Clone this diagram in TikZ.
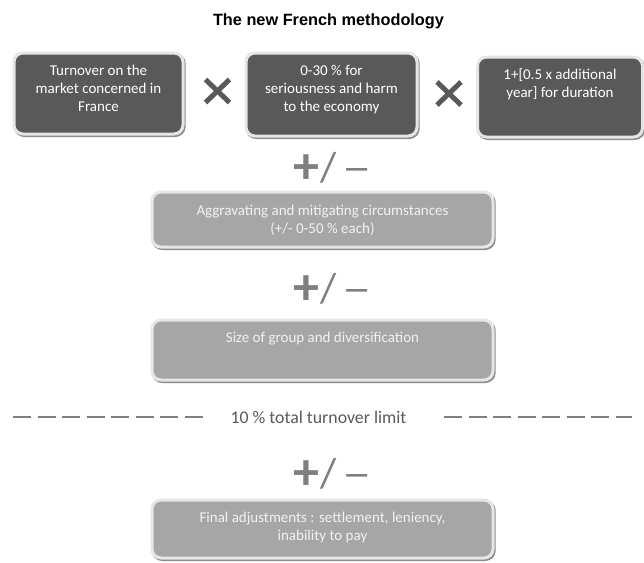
\documentclass[tikz,border=0pt]{standalone}
\usepackage{fontspec}
\setmainfont{Carlito}
\newfontfamily\titlefont{Liberation Sans}
\usetikzlibrary{shadows,calc}
\definecolor{darkfill}{HTML}{595959}
\definecolor{lightfill}{HTML}{A6A6A6}
\definecolor{boxrim}{HTML}{E6E6E6}
\definecolor{midgray}{HTML}{7F7F7F}
\definecolor{textgray}{HTML}{595959}
\newcommand{\pmsign}{\raisebox{-2.5pt}{\fontsize{52}{52}\selectfont\bfseries +}\kern1pt{\fontsize{42}{42}\selectfont /\kern6pt\scalebox{1.4}[1]{–}}}
\tikzset{
  boxbase/.style={rounded corners=9pt, draw=boxrim, line width=3pt, inner sep=0pt,
    drop shadow={shadow xshift=1.2pt, shadow yshift=-1.5pt, fill=black!45, draw=black!45, line width=3pt, opacity=1}},
  darkbox/.style={boxbase, fill=darkfill},
  lightbox/.style={boxbase, fill=lightfill},
  boxtext/.style={anchor=north, inner sep=0pt, align=center, text=white, font=\fontsize{15}{18}\selectfont},
  lighttext/.style={boxtext, text=white!95!black},
  opsign/.style={text=midgray, inner sep=0pt, anchor=west},
  timesline/.style={line width=5pt, draw=darkfill},
  limitdash/.style={line width=2.7pt, draw=midgray, dash pattern=on 18pt off 6.5pt},
}
\begin{document}
\begin{tikzpicture}[x=1pt,y=-1pt]
\useasboundingbox (0,0) rectangle (644,562);
% title
\node[font=\titlefont\bfseries\fontsize{16.3}{19}\selectfont, inner sep=0pt] (title) at (328.5,21) {The new French methodology};
% top row boxes
\node[darkbox, minimum width=169pt, minimum height=81pt] (b1) at (98.5,93.5) {};
\node[darkbox, minimum width=171pt, minimum height=83pt] (b2) at (331.5,94.5) {};
\node[darkbox, minimum width=165pt, minimum height=80pt] (b3) at (560,97) {};
\node[boxtext] (t1) at ($(b1.north)+(0,11.4)$) {\strut Turnover on the\\market concerned in\\France};
\node[boxtext] (t2) at ($(b2.north)+(0,11.4)$) {\strut 0-30 \% for\\seriousness and harm\\to the economy};
\node[boxtext] (t3) at ($(b3.north)+(0,11.4)$) {\strut 1+[0.5 x additional\\year] for duration};
% multiplication signs
\coordinate (m1) at (217.5,91);
\coordinate (m2) at (449,93.5);
\foreach \m in {m1,m2}{
  \draw[timesline] ($(\m)+(-12,-11.5)$) -- ($(\m)+(12,11.5)$);
  \draw[timesline] ($(\m)+(-12,11.5)$) -- ($(\m)+(12,-11.5)$);
}
% plus/minus signs
\node[opsign] (pm1) at (293,168) {\pmsign};
\node[opsign] (pm2) at (293,289) {\pmsign};
\node[opsign] (pm3) at (293,474) {\pmsign};
% middle boxes
\node[lightbox, minimum width=341pt, minimum height=55pt] (b4) at (322.5,219.5) {};
\node[lighttext] (t4) at ($(b4.north)+(0,12)$) {\strut Aggravating and mitigating circumstances\\(+/- 0-50 \% each)};
\node[lightbox, minimum width=341pt, minimum height=60pt] (b5) at (322.5,350) {};
\node[lighttext] (t5) at ($(b5.north)+(0,11.4)$) {\strut Size of group and diversification};
% limit line
\node[text=textgray, inner sep=0pt, font=\fontsize{17.8}{20}\selectfont] (lim) at (318.5,417) {10 \% total turnover limit};
\coordinate (dl1) at (13,417);
\coordinate (dl2) at (203,417);
\coordinate (dr1) at (444,417);
\coordinate (dr2) at (632,417);
\draw[limitdash] (dl1) -- (dl2);
\draw[limitdash] (dr1) -- (dr2);
% final box
\node[lightbox, minimum width=341pt, minimum height=58pt] (b6) at (322.5,529) {};
\node[lighttext] (t6) at ($(b6.north)+(0,11.4)$) {\strut Final adjustments : settlement, leniency,\\inability to pay};
\end{tikzpicture}
\end{document}
